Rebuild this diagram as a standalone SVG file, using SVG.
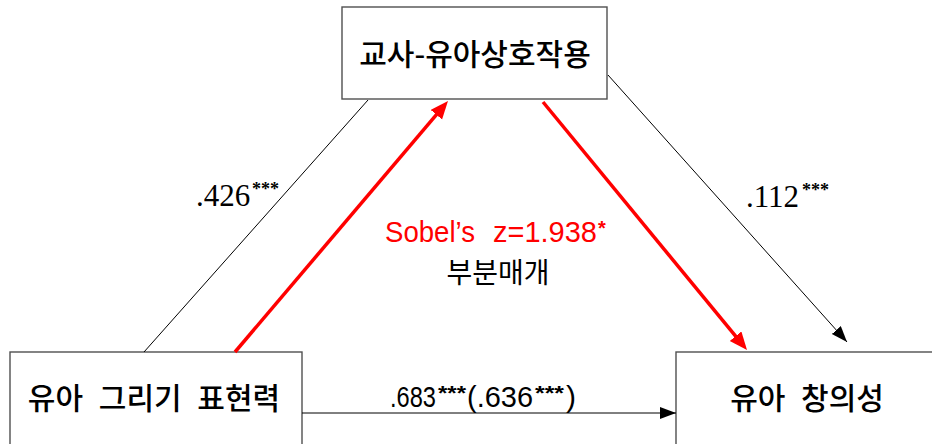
<svg xmlns="http://www.w3.org/2000/svg" width="932" height="444" viewBox="0 0 932 444">
<style>
.box{fill:#fff;stroke:#505050;stroke-width:1.4}
.kr{font-family:"Noto Sans CJK KR","Noto Sans",sans-serif;fill:#000}
.bl{font-size:30px;font-weight:500}
.num{font-family:"Liberation Sans",Arial,sans-serif;fill:#000;font-size:29px}
.st{font-size:20px;font-weight:bold}
.ser{font-family:"Liberation Serif","Times New Roman",serif;fill:#000;font-size:31px}
.sst{font-size:19px;font-weight:bold}
.rd{fill:#ff0000}
.thin{stroke:#000;stroke-width:1;fill:none}
.red{stroke:#ff0000;stroke-width:3.5;fill:none}
</style>
<defs>
<marker id="ab" markerUnits="userSpaceOnUse" markerWidth="18" markerHeight="14" refX="16" refY="6" orient="auto">
<path d="M0,0 L16,6 L0,12 z" fill="#000"/>
</marker>
<marker id="ar" markerUnits="userSpaceOnUse" markerWidth="20" markerHeight="16" refX="12" refY="7.5" orient="auto">
<path d="M0,0 L18,7.5 L0,15 z" fill="#ff0000"/>
</marker>
</defs>
<g id="n-mediator">
<rect class="box" x="342" y="7" width="265" height="92"/>
<text class="kr bl" x="475" y="65" text-anchor="middle" font-size="31">교사-유아상호작용</text>
</g>
<g id="n-drawing">
<rect class="box" x="10" y="352" width="292" height="110"/>
<text class="kr bl" x="154" y="409" text-anchor="middle" word-spacing="9">유아 그리기 표현력</text>
</g>
<g id="n-creativity">
<rect class="box" x="676" y="352" width="280" height="110"/>
<text class="kr bl" x="807" y="409" text-anchor="middle" word-spacing="9">유아 창의성</text>
</g>
<g id="connectors">
<line class="thin" x1="144" y1="352" x2="368" y2="100"/>
<line class="thin" x1="608" y1="75" x2="847" y2="342" marker-end="url(#ab)"/>
<line class="thin" x1="302" y1="413" x2="676" y2="413" marker-end="url(#ab)"/>
<line class="red" x1="235" y1="352" x2="444.1" y2="105.6" marker-end="url(#ar)"/>
<line class="red" x1="543" y1="102" x2="743.2" y2="345.4" marker-end="url(#ar)"/>
</g>
<g id="labels">
<text class="ser" x="196" y="206">.426</text>
<text class="ser sst" x="252" y="195" textLength="27" lengthAdjust="spacingAndGlyphs">***</text>
<text class="ser" x="746" y="207">.112</text>
<text class="ser sst" x="802" y="196" textLength="27" lengthAdjust="spacingAndGlyphs">***</text>
<text class="num rd" x="385" y="242" textLength="90" lengthAdjust="spacingAndGlyphs">Sobel’s</text>
<text class="num rd" x="493" y="242" textLength="104" lengthAdjust="spacingAndGlyphs">z=1.938</text>
<text class="num rd st" x="598" y="235">*</text>
<text class="kr" x="498" y="283" font-size="28" text-anchor="middle">부분매개</text>
<text class="num" x="390" y="407" textLength="46" lengthAdjust="spacingAndGlyphs">.683</text>
<text class="num st" x="438" y="400" textLength="28" lengthAdjust="spacingAndGlyphs">***</text>
<text class="num" x="467" y="407" textLength="66" lengthAdjust="spacingAndGlyphs">(.636</text>
<text class="num st" x="535" y="400" textLength="29" lengthAdjust="spacingAndGlyphs">***</text>
<text class="num" x="566" y="407" textLength="10" lengthAdjust="spacingAndGlyphs">)</text>
</g>
</svg>
